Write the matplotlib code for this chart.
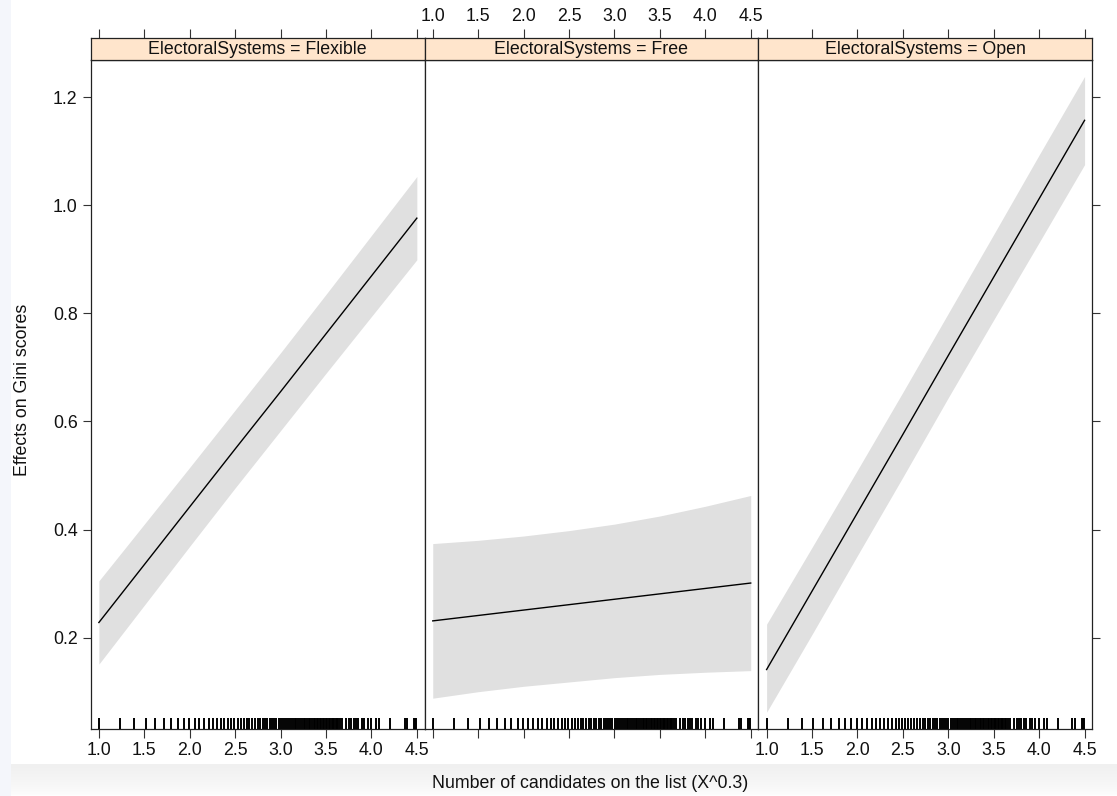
import numpy as np
import matplotlib
matplotlib.use("Agg")
import matplotlib.pyplot as plt
import matplotlib.transforms as mtransforms
from matplotlib.patches import Rectangle

plt.rcParams['font.family'] = ['Liberation Sans', 'DejaVu Sans']

# ---------------- data ----------------
panels = ["Flexible", "Free", "Open"]
x_grid = [1.0, 1.5, 2.0, 2.5, 3.0, 3.5, 4.0, 4.5]

fit_flexible = [0.228, 0.335, 0.442, 0.549, 0.655, 0.762, 0.869, 0.976]
lower_flexible = [0.151, 0.260, 0.369, 0.477, 0.583, 0.689, 0.794, 0.899]
upper_flexible = [0.305, 0.410, 0.515, 0.621, 0.727, 0.835, 0.944, 1.053]

fit_free = [0.231, 0.241, 0.251, 0.261, 0.271, 0.281, 0.291, 0.301]
lower_free = [0.088, 0.100, 0.110, 0.118, 0.126, 0.132, 0.136, 0.139]
upper_free = [0.374, 0.380, 0.388, 0.398, 0.410, 0.425, 0.443, 0.463]

fit_open = [0.141, 0.286, 0.431, 0.576, 0.722, 0.867, 1.012, 1.157]
lower_open = [0.062, 0.206, 0.352, 0.497, 0.644, 0.788, 0.931, 1.075]
upper_open = [0.225, 0.367, 0.510, 0.654, 0.800, 0.946, 1.093, 1.238]

# number of candidates observed (rug), shown on the X^0.3 scale
candidates = list(range(1, 76)) + [77, 80, 82, 84, 86, 88, 90, 93, 95, 98, 101,
                                   106, 109, 120, 136, 139, 147, 148, 150]

x_ticks = [1.0, 1.5, 2.0, 2.5, 3.0, 3.5, 4.0, 4.5]
y_ticks = [0.2, 0.4, 0.6, 0.8, 1.0, 1.2]

series = {
    "Flexible": (fit_flexible, lower_flexible, upper_flexible),
    "Free": (fit_free, lower_free, upper_free),
    "Open": (fit_open, lower_open, upper_open),
}

# ---------------- layout ----------------
W, H = 1117, 796
fig = plt.figure(figsize=(W / 100, H / 100), dpi=100)
fig.patch.set_facecolor("white")

# screenshot background margins
fig.add_artist(Rectangle((0, 0), 11 / W, 1, transform=fig.transFigure,
                         facecolor="#f4f6fb", edgecolor="none", zorder=0))
grad = np.linspace(1, 0, 64).reshape(-1, 1)
gax = fig.add_axes([0, 0, 1, 32 / H], zorder=-1)
gax.imshow(grad ** 0.6, aspect="auto",
           cmap=matplotlib.colors.LinearSegmentedColormap.from_list(
               "g", ["#ffffff", "#f0f0f0"]), extent=[0, 1, 0, 1], vmin=0, vmax=1)
gax.set_axis_off()

left_px, right_px = 90.7, 1092.3
top_px, bottom_px = 60.3, 729.0
strip_h = 22.0
pw = (right_px - left_px) / 3

xlim = (0.91, 4.585)
ylim = (0.031, 1.268)

FS = 12.8
tick_col = "#333333"
txt_col = "#111111"
rug_x = np.array(candidates, dtype=float) ** 0.3

for i, name in enumerate(panels):
    l = (left_px + i * pw) / W
    b = (H - bottom_px) / H
    ax = fig.add_axes([l, b, pw / W, (bottom_px - top_px) / H])
    fit, lo, up = series[name]
    ax.fill_between(x_grid, lo, up, color="#e0e0e0", linewidth=0, zorder=1)
    ax.plot(x_grid, fit, color="black", linewidth=1.0, zorder=2)
    trans = mtransforms.blended_transform_factory(ax.transData, ax.transAxes)
    ax.vlines(rug_x, 0, 11 / (bottom_px - top_px), transform=trans,
              color="black", linewidth=1.4, zorder=3)
    ax.set_xlim(*xlim)
    ax.set_ylim(*ylim)
    for s in ax.spines.values():
        s.set_color("#222222")
        s.set_linewidth(0.9)
    ax.set_xticks(x_ticks)
    ax.set_yticks(y_ticks)
    ax.tick_params(axis="x", direction="out", length=6.5, width=0.8, color=tick_col,
                   labelsize=FS, pad=3, labelcolor=txt_col)
    ax.tick_params(axis="y", direction="out", length=5.5, width=0.8, color=tick_col,
                   labelsize=FS, pad=4, labelcolor=txt_col)
    ax.set_xticklabels([f"{t:.1f}" for t in x_ticks])
    ax.set_yticklabels([f"{t:.1f}" for t in y_ticks])
    if i == 1:
        ax.tick_params(axis="x", labelbottom=False)
    if i != 0:
        ax.tick_params(axis="y", left=False, labelleft=False)
    if i == 2:
        ax.tick_params(axis="y", right=True, labelright=False)

    # strip
    sax = fig.add_axes([l, (H - top_px) / H, pw / W, strip_h / H])
    sax.set_facecolor("#ffe5cc")
    sax.set_xlim(*xlim)
    sax.set_ylim(0, 1)
    sax.set_yticks([])
    sax.set_xticks(x_ticks)
    sax.tick_params(axis="x", bottom=False, labelbottom=False, top=True,
                    labeltop=(i == 1), direction="out", length=6.5, width=0.8,
                    color=tick_col, labelsize=FS, pad=3, labelcolor=txt_col)
    sax.set_xticklabels([f"{t:.1f}" for t in x_ticks])
    for s in sax.spines.values():
        s.set_color("#222222")
        s.set_linewidth(0.9)
    sax.text(0.5, 0.47, f"ElectoralSystems = {name}", transform=sax.transAxes,
             ha="center", va="center", fontsize=FS, color=txt_col)

fig.text(590 / W, 1 - 783 / H, "Number of candidates on the list (X^0.3)",
         ha="center", va="center", fontsize=FS, color=txt_col)
fig.text(23 / W, 1 - 390 / H, "Effects on Gini scores", rotation=90,
         ha="center", va="center", fontsize=FS, color=txt_col)

fig.savefig("out.png", dpi=100)
